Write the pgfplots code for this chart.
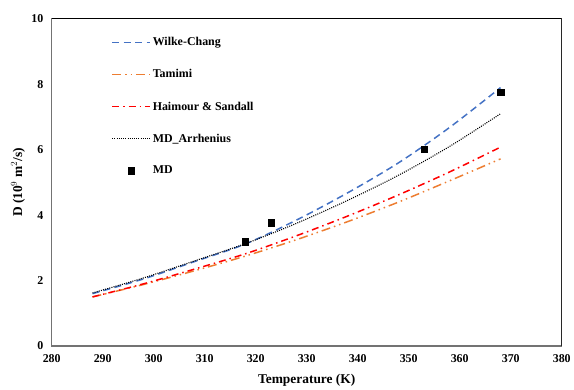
\documentclass[border=0pt]{standalone}
\usepackage{pgfplots}
\pgfplotsset{compat=1.18}
\usepackage{fontspec}
\setmainfont{Liberation Serif}
\definecolor{wcblue}{HTML}{4472C4}
\definecolor{tamorange}{HTML}{ED7D31}
\pgfplotsset{mdlegend/.style={legend image code/.code={\draw[##1] plot coordinates {(19pt,0pt)};}}}
\begin{document}
\begin{tikzpicture}
\begin{axis}[
  name=ax,
  scale only axis,
  width=513pt, height=329pt,
  xmin=280, xmax=380, ymin=0, ymax=10,
  xtick={280,290,...,380}, ytick={0,2,...,10},
  major tick length=0pt,
  /pgf/number format/assume math mode=true,
  /pgf/number format/1000 sep={},
  ticklabel style={font=\fontsize{12}{14}\selectfont\bfseries},
  yticklabel style={xshift=-5pt},
  xticklabel style={yshift=-5pt},
  xlabel={Temperature (K)},
  ylabel={D (10$^9$ m$^2$/s)},
  label style={font=\fontsize{13.5}{15}\selectfont\bfseries},
  xlabel style={at={(axis description cs:0.5,-0.1033)}, anchor=center},
  ylabel style={at={(axis description cs:-0.066,0.5)}, anchor=center},
  axis line style={draw=black!55, line width=1.2pt},
  legend cell align=left,
  legend style={draw=none, fill=none, at={(axis description cs:0.111,0.956)}, anchor=north west,
    font=\fontsize{12}{14}\selectfont\bfseries, row sep=18.5pt},
  legend image code/.code={\draw[#1] (0pt,0pt) -- (38pt,0pt);},
]
\addplot[wcblue, line width=1.5pt, dash pattern=on 7pt off 4.5pt, smooth] coordinates {
(288,1.60) (298,2.05) (308,2.58) (318,3.12) (328,3.85) (338,4.68) (348,5.60) (358,6.68) (368,7.90)};
\addlegendentry{Wilke-Chang}
\addplot[tamorange, line width=1.5pt, dash pattern=on 9pt off 4pt on 1.5pt off 4pt on 1.5pt off 4pt, smooth] coordinates {
(288,1.50) (298,1.88) (308,2.30) (318,2.75) (328,3.25) (338,3.80) (348,4.40) (358,5.05) (368,5.72)};
\addlegendentry{Tamimi}
\addplot[red, line width=1.5pt, dash pattern=on 7pt off 4pt on 1.5pt off 4pt, smooth] coordinates {
(288,1.50) (298,1.90) (308,2.35) (318,2.82) (328,3.37) (338,3.97) (348,4.62) (358,5.32) (368,6.08)};
\addlegendentry{Haimour \& Sandall}
\addplot[black, line width=1.1pt, dash pattern=on 1pt off 1.2pt, smooth] coordinates {
(288,1.62) (298,2.08) (308,2.60) (318,3.13) (328,3.75) (338,4.45) (348,5.22) (358,6.10) (368,7.10)};
\addlegendentry{MD\_Arrhenius}
\addplot[only marks, mark=square*, mark size=3.2pt, black, mdlegend] coordinates {
(318,3.19) (323,3.77) (353,6.02) (368,7.75)};
\addlegendentry{MD}
\draw[black, line width=1.2pt] (rel axis cs:0,1) -- (rel axis cs:1,1) -- (rel axis cs:1,0);
\end{axis}
\path ([shift={(-52pt,-44pt)}]ax.south west) ([shift={(9pt,19pt)}]ax.north east);
\end{tikzpicture}
\end{document}
